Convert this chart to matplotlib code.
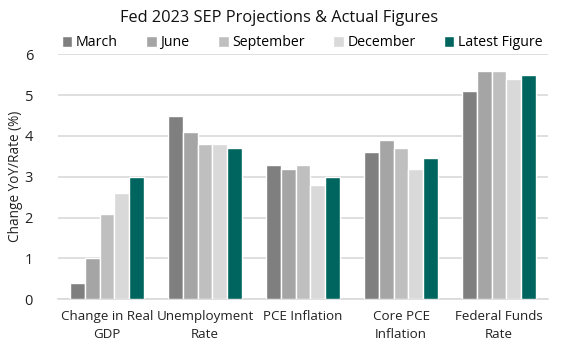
import numpy as np
import matplotlib
matplotlib.use("Agg")
import matplotlib.pyplot as plt

categories = ["Change in Real\nGDP", "Unemployment\nRate", "PCE Inflation",
              "Core PCE\nInflation", "Federal Funds\nRate"]
series_names = ["March", "June", "September", "December", "Latest Figure"]
march = [0.4, 4.5, 3.3, 3.6, 5.1]
june = [1.0, 4.1, 3.2, 3.9, 5.6]
september = [2.1, 3.8, 3.3, 3.7, 5.6]
december = [2.6, 3.8, 2.8, 3.2, 5.4]
latest = [3.0, 3.7, 3.0, 3.46, 5.5]
yticks = [0, 1, 2, 3, 4, 5, 6]

colors = ["#7f7f7f", "#a5a5a5", "#bfbfbf", "#d9d9d9", "#00655f"]
plt.rcParams["font.family"] = ["Open Sans", "DejaVu Sans"]

fig = plt.figure(figsize=(5.8, 3.5), dpi=100)
ax = fig.add_axes([0.1, 0.145, 0.845, 0.70])

x = np.arange(len(categories))
w = 0.15
for i, (name, vals) in enumerate(zip(series_names, [march, june, september, december, latest])):
    ax.bar(x + (i - 2) * w, vals, width=w, color=colors[i], edgecolor="white",
           linewidth=1, label=name, zorder=3)

ax.set_xlim(-0.5, len(categories) - 0.5)
ax.set_ylim(0, 6)
ax.set_yticks(yticks)
ax.set_xticks(x)
ax.set_xticklabels(categories, fontsize=9.6, color="#222222", linespacing=1.45)
ax.tick_params(axis="y", labelsize=10.5, colors="#222222", length=0, pad=18)
ax.tick_params(axis="x", length=0, pad=8)
ax.grid(axis="y", color="#d9d9d9", linewidth=1.2, zorder=0)
for s in ["top", "right", "left"]:
    ax.spines[s].set_visible(False)
ax.spines["bottom"].set_color("#d9d9d9")
ax.spines["bottom"].set_linewidth(1.2)
ax.set_ylabel("Change YoY/Rate (%)", fontsize=9.8, color="#222222", labelpad=1)

fig.suptitle("Fed 2023 SEP Projections & Actual Figures", fontsize=11.8,
             x=0.482, y=0.97, color="#111111")
fig.legend(loc="upper center", bbox_to_anchor=(0.521, 0.915), ncol=5, frameon=False,
           fontsize=10.2, handlelength=0.75, handleheight=0.75, handletextpad=0.25,
           columnspacing=2.0, borderaxespad=0)

fig.savefig("out.png", dpi=100)
